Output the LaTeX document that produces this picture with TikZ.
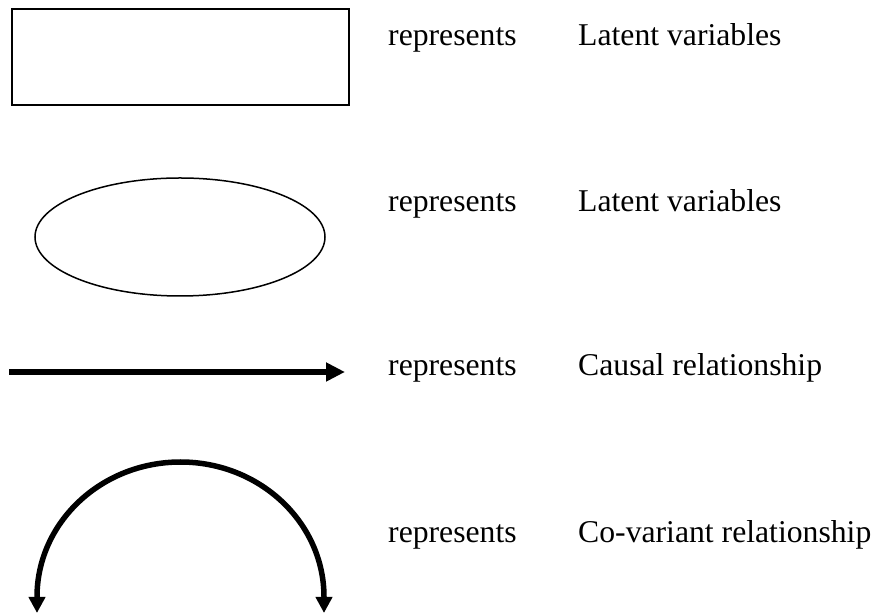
\documentclass[tikz,border=0pt]{standalone}
\usepackage{fontspec}
\setmainfont{Liberation Serif}
\usetikzlibrary{arrows.meta,shapes.geometric}

\tikzset{
  legendtext/.style={anchor=base west, inner sep=0pt, font=\fontsize{31.7}{38}\selectfont},
  boxshape/.style={draw, line width=2pt, rectangle, inner sep=0pt,
                   minimum width=336.5pt, minimum height=96pt},
  ovalshape/.style={draw, line width=1.5pt, ellipse, inner sep=0pt,
                    minimum width=290pt, minimum height=118pt},
  causal/.style={line width=5.5pt, -{Triangle[length=19pt,width=18pt]}},
  covariant/.style={line width=5.5pt,
                    {Triangle[length=16pt,width=16pt]}-{Triangle[length=16pt,width=16pt]}}
}

\begin{document}
\begin{tikzpicture}[x=1pt, y=1pt]
  \useasboundingbox (0,0) rectangle (877,615);

  % shapes of the legend
  \node[boxshape]  (box)  at (180.25,558) {};
  \node[ovalshape] (oval) at (180,378) {};

  % single-headed arrow
  \coordinate (causalA) at (9,243);
  \coordinate (causalB) at (345,243);
  \draw[causal] (causalA) -- (causalB);

  % double-headed curved arrow
  \coordinate (covA) at (37,2);
  \coordinate (covB) at (324,2);
  \draw[covariant] (covA) -- (37,18)
      arc[start angle=180, end angle=0, x radius=143.5, y radius=135] -- (covB);

  % explanations
  \node[legendtext] (r1) at (388,569) {represents};
  \node[legendtext] (t1) at (578,569) {Latent variables};
  \node[legendtext] (r2) at (388,403) {represents};
  \node[legendtext] (t2) at (578,403) {Latent variables};
  \node[legendtext] (r3) at (388,239) {represents};
  \node[legendtext] (t3) at (578,239) {Causal relationship};
  \node[legendtext] (r4) at (388,72) {represents};
  \node[legendtext] (t4) at (578,72) {Co-variant relationship};
\end{tikzpicture}
\end{document}
